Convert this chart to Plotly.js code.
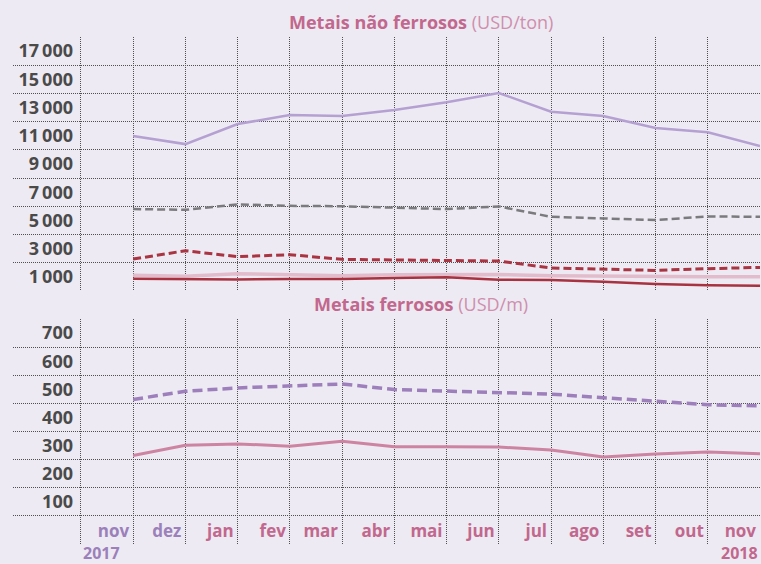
<!DOCTYPE html>
<html><head><meta charset="utf-8">
<script src="https://cdn.plot.ly/plotly-3.0.1.min.js"></script>
<style>html,body{margin:0;padding:0;background:#EDEAF3;} #chart{width:761px;height:564px;}</style>
</head><body><div id="chart"></div>
<script>
// ---- data ----
const months = ['nov','dez','jan','fev','mar','abr','mai','jun','jul','ago','set','out','nov'];
const years = ['2017', '2018'];
const yTicksTop = [1000, 3000, 5000, 7000, 9000, 11000, 13000, 15000, 17000];
const yTicksBottom = [100, 200, 300, 400, 500, 600, 700];
const niquel   = [11970, 11400, 12820, 13460, 13390, 13810, 14360, 15020, 13690, 13390, 12540, 12240, 11270];
const cobre    = [6800, 6750, 7130, 7030, 7000, 6890, 6800, 6990, 6250, 6140, 6020, 6280, 6250];
const zinco    = [3260, 3850, 3430, 3570, 3240, 3210, 3170, 3120, 2630, 2550, 2460, 2580, 2670];
const aluminio = [2110, 2040, 2220, 2180, 2080, 2150, 2180, 2160, 2080, 2040, 2010, 2010, 2010];
const chumbo   = [1870, 1820, 1820, 1850, 1850, 1920, 1970, 1800, 1780, 1660, 1490, 1400, 1370];
const ferroA   = [514, 543, 555, 562, 569, 549, 543, 537, 533, 520, 508, 495, 491];
const ferroB   = [315, 351, 356, 348, 365, 346, 346, 345, 334, 309, 320, 327, 321];

// ---- styles ----
const W = 761, H = 564;
const PINK = '#C2678D', PINK_L = '#CF8FAD', PURPLE = '#9B80BA';
const GRID = '#505050';
const FONT = 'Open Sans, Lato, sans-serif';
const idx = months.map((m, i) => i);
const grid = { showgrid: true, gridcolor: GRID, gridwidth: 1, griddash: '1px,1px', zeroline: false, showline: false };
const fmt = v => String(v).replace(/(\d)(?=(\d{3})+$)/g, '$1\u2009');
const monthColor = i => (i < 2 ? PURPLE : PINK);

const traces = [
  { y: niquel,   color: '#B5A0D2', width: 2.5, dash: 'solid', ax: 1 },
  { y: cobre,    color: '#7B7B7E', width: 2.5, dash: '8px,4px', ax: 1 },
  { y: zinco,    color: '#A93442', width: 3,   dash: '8px,4px', ax: 1 },
  { y: aluminio, color: '#E3BCCB', width: 3.5, dash: 'solid', ax: 1 },
  { y: chumbo,   color: '#A8323F', width: 2.5, dash: 'solid', ax: 1 },
  { y: ferroA,   color: '#9D7FBB', width: 3.5, dash: '10px,5px', ax: 2 },
  { y: ferroB,   color: '#CD84A2', width: 3,   dash: 'solid', ax: 2 }
].map(t => ({
  type: 'scatter', mode: 'lines', x: idx, y: t.y,
  xaxis: t.ax === 1 ? 'x' : 'x2', yaxis: t.ax === 1 ? 'y' : 'y2',
  line: { color: t.color, width: t.width, dash: t.dash }, hoverinfo: 'skip'
}));

const xDomain = [13 / W, 760 / W];
const xRange = [-2.3, months.length - 1];
const vgrid = [-1].concat(idx);
const yPos = 79 / W;

const layout = {
  width: W, height: H,
  margin: { l: 0, r: 0, t: 0, b: 0 },
  paper_bgcolor: '#EDEAF3', plot_bgcolor: '#EDEAF3',
  showlegend: false,
  xaxis: Object.assign({}, grid, { domain: xDomain, range: xRange, tickmode: 'array', tickvals: vgrid, showticklabels: false, ticks: '', anchor: 'y' }),
  yaxis: Object.assign({}, grid, {
    domain: [1 - 291 / H, 1 - 36.75 / H], range: [1000, 19000],
    tickmode: 'array', tickvals: yTicksTop, ticktext: yTicksTop.map(fmt),
    anchor: 'free', position: yPos, ticks: '', ticklabelstandoff: 6, ticklabelshift: -14,
    tickfont: { family: FONT, size: 18, color: '#4a4a4a', weight: 700 }
  }),
  xaxis2: Object.assign({}, grid, {
    domain: xDomain, range: xRange, tickmode: 'array', tickvals: vgrid,
    ticktext: [''].concat(months.map((m, i) => '<span style="color:' + monthColor(i) + '">' + m + '</span>')),
    anchor: 'free', position: (H - 516) / H, ticks: '', ticklabelposition: 'outside left', ticklabelstandoff: 3, ticklabelshift: -4,
    tickfont: { family: FONT, size: 17, color: PINK, weight: 700 }
  }),
  yaxis2: Object.assign({}, grid, {
    domain: [1 - 544 / H, 1 - 319 / H], range: [0, 800],
    tickmode: 'array', tickvals: yTicksBottom, ticktext: yTicksBottom.map(String),
    anchor: 'free', position: yPos, ticks: '', ticklabelstandoff: 6, ticklabelshift: -14,
    tickfont: { family: FONT, size: 18, color: '#4a4a4a', weight: 700 }
  }),
  annotations: [
    { xref: 'paper', yref: 'paper', x: 420.5 / W, y: 1 - 22 / H, xanchor: 'center', yanchor: 'middle', showarrow: false,
      text: '<b>Metais não ferrosos</b> <span style="color:' + PINK_L + '">(USD/ton)</span>',
      font: { family: FONT, size: 18, color: PINK } },
    { xref: 'paper', yref: 'paper', x: 420.5 / W, y: 1 - 304 / H, xanchor: 'center', yanchor: 'middle', showarrow: false,
      text: '<b>Metais ferrosos</b> <span style="color:' + PINK_L + '">(USD/m)</span>',
      font: { family: FONT, size: 18, color: PINK } },
    { xref: 'x2', yref: 'paper', x: -1, y: 1 - 553 / H, xanchor: 'left', yanchor: 'middle', showarrow: false,
      text: '<b>' + years[0] + '</b>', font: { family: FONT, size: 16, color: PURPLE } },
    { xref: 'x2', yref: 'paper', x: months.length - 1, y: 1 - 553 / H, xanchor: 'right', yanchor: 'middle', showarrow: false,
      text: '<b>' + years[1] + '</b>', font: { family: FONT, size: 16, color: PINK } }
  ]
};

Plotly.newPlot('chart', traces, layout, { staticPlot: true, displayModeBar: false });
</script>
</body></html>
